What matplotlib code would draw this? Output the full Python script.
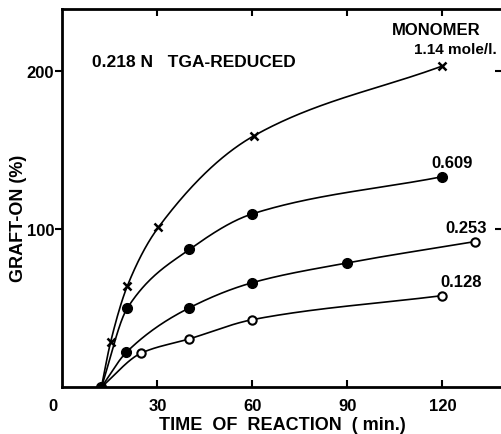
import numpy as np
import matplotlib.pyplot as plt

plt.rcParams['font.family'] = ['Liberation Sans', 'DejaVu Sans']
plt.rcParams['font.weight'] = 'bold'

# values (time in min, graft-on in %)
t_114 = [12.3, 15.2, 20.5, 30.3, 60.6, 120]
g_114 = [0, 28.5, 64, 101, 159, 203]

t_609 = [12.3, 20.5, 40.1, 60, 120]
g_609 = [0, 50, 87, 109.5, 133]

t_253 = [12.3, 20.2, 40, 60, 90, 130.4]
g_253 = [0, 22, 50, 66, 78.5, 92]

t_128 = [12.3, 24.9, 40, 60, 120]
g_128 = [0, 21.5, 30.4, 42.6, 57.8]

labels = ['0.609', '0.253', '0.128']


# smooth monotone curve through the points (Fritsch-Carlson)
def smooth(x, y, n=300):
    x = np.asarray(x, float)
    y = np.asarray(y, float)
    h = np.diff(x)
    d = np.diff(y) / h
    m = np.zeros_like(x)
    m[0] = d[0]
    m[-1] = d[-1]
    for k in range(1, len(x) - 1):
        if d[k - 1] * d[k] > 0:
            w1 = 2 * h[k] + h[k - 1]
            w2 = h[k] + 2 * h[k - 1]
            m[k] = (w1 + w2) / (w1 / d[k - 1] + w2 / d[k])
    xs = np.linspace(x[0], x[-1], n)
    idx = np.clip(np.searchsorted(x, xs) - 1, 0, len(x) - 2)
    hk = h[idx]
    s = (xs - x[idx]) / hk
    h00 = 2 * s**3 - 3 * s**2 + 1
    h10 = s**3 - 2 * s**2 + s
    h01 = -2 * s**3 + 3 * s**2
    h11 = s**3 - s**2
    ys = h00 * y[idx] + h10 * hk * m[idx] + h01 * y[idx + 1] + h11 * hk * m[idx + 1]
    return xs, ys


fig = plt.figure(figsize=(5.02, 4.35), dpi=100)
ax = fig.add_axes([0.1245, 0.108, 0.8755, 0.869])

for t, g in [(t_114, g_114), (t_609, g_609), (t_253, g_253), (t_128, g_128)]:
    xs, ys = smooth(t, g)
    ax.plot(xs, ys, color='black', lw=1.2, zorder=2)

ax.plot(t_114[1:], g_114[1:], 'x', color='black', ms=6, mew=1.8, zorder=3)
ax.plot(t_609[1:], g_609[1:], 'o', color='black', ms=7, zorder=3)
ax.plot(t_253[1:-1], g_253[1:-1], 'o', color='black', ms=7, zorder=3)
ax.plot(t_253[-1:], g_253[-1:], 'o', color='black', mfc='white', ms=6, mew=1.5, zorder=3)
ax.plot(t_128[1:], g_128[1:], 'o', color='black', mfc='white', ms=6, mew=1.5, zorder=3)
ax.plot(t_128[:1], g_128[:1], 'o', color='black', ms=7, zorder=4)

ax.set_xlim(0, 138.8)
ax.set_ylim(0, 239)

ax.set_xticks([30, 60, 90, 120])
ax.set_yticks([100, 200])
ax.tick_params(axis='x', direction='in', length=5, width=1.5, top=True,
               labelsize=12, pad=8)
ax.tick_params(axis='y', direction='out', length=5, width=1.5,
               labelsize=12, pad=1)
for sp in ax.spines.values():
    sp.set_linewidth(2)
ax.spines['right'].set_visible(False)

# short marks on the (cut-off) right edge
sec = ax.secondary_yaxis('right')
sec.set_yticks([100, 200])
sec.set_yticklabels([])
sec.tick_params(direction='in', length=5, width=1.5)
sec.spines['right'].set_visible(False)

ax.annotate('0', (0, 0), xytext=(-7, -13), textcoords='offset points',
            ha='center', va='center', fontsize=12, fontweight='bold')

ax.set_xlabel('TIME  OF  REACTION  ( min.)', fontsize=13, fontweight='bold',
              labelpad=2)
ax.set_ylabel('GRAFT-ON (%)', fontsize=13, fontweight='bold')
ax.yaxis.set_label_coords(-0.08, 0.45)

ax.text(9.2, 206, '0.218 N   TGA-REDUCED', fontsize=12.5, va='center')
ax.text(118, 226, 'MONOMER', fontsize=12, ha='center', va='center')
ax.text(124, 214, '1.14 mole/l.', fontsize=11, ha='center', va='center')
ax.text(123, 142, labels[0], fontsize=12, ha='center', va='center')
ax.text(127.5, 100.6, labels[1], fontsize=12, ha='center', va='center')
ax.text(126, 66.5, labels[2], fontsize=12, ha='center', va='center')

fig.savefig('out.png', dpi=100)
